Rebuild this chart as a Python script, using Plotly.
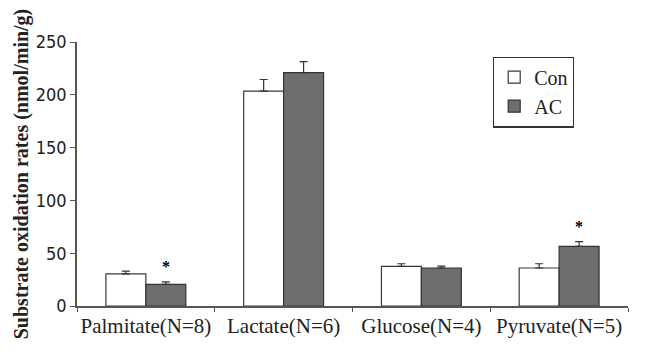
import plotly.graph_objects as go

categories = ["Palmitate(N=8)", "Lactate(N=6)", "Glucose(N=4)", "Pyruvate(N=5)"]
con_values = [30.5, 203.5, 37.5, 36]
con_errors = [2.5, 11, 2.5, 4]
ac_values = [20.5, 221, 36, 56.5]
ac_errors = [2.3, 10.5, 1.8, 4.5]
significant = [True, False, False, True]
y_ticks = [0, 50, 100, 150, 200, 250]

bargap = 0.42
serif = "Liberation Serif, Times New Roman, serif"
narrow = "Liberation Sans Narrow, DejaVu Sans Condensed, Arial Narrow, sans-serif"

fig = go.Figure()
fig.add_trace(go.Bar(
    name="Con", x=categories, y=con_values,
    marker=dict(color="white", line=dict(color="#3a3a3a", width=1.2)),
    error_y=dict(type="data", symmetric=False, array=con_errors,
                 arrayminus=[0] * len(con_errors), color="#333", thickness=1.2, width=4),
))
fig.add_trace(go.Bar(
    name="AC", x=categories, y=ac_values,
    marker=dict(color="#6e6e6e", line=dict(color="#333", width=1.2)),
    error_y=dict(type="data", symmetric=False, array=ac_errors,
                 arrayminus=[0] * len(ac_errors), color="#333", thickness=1.2, width=4),
))

offset = (1 - bargap) / 4
for i, sig in enumerate(significant):
    if sig:
        fig.add_annotation(x=i + offset, y=ac_values[i] + ac_errors[i], xref="x", yref="y",
                           text="<b>*</b>", showarrow=False, yanchor="bottom", yshift=5,
                           font=dict(family=serif, size=16, color="#000"))

fig.update_layout(
    width=646, height=353,
    margin=dict(l=69, r=26, t=34, b=55, autoexpand=False),
    paper_bgcolor="white", plot_bgcolor="white",
    barmode="group", bargap=bargap, bargroupgap=0,
    showlegend=True,
    legend=dict(x=0.755, y=0.945, xanchor="left", yanchor="top",
                bordercolor="#333", borderwidth=1.2, bgcolor="white",
                font=dict(family=serif, size=20, color="#222"),
                itemwidth=30, tracegroupgap=0),
    xaxis=dict(type="category", showline=True, linecolor="#555", linewidth=1.5,
               ticks="outside", tickson="boundaries", ticklen=4, tickcolor="#555",
               tickfont=dict(family=serif, size=21, color="#222"), tickangle=0,
               showgrid=False, range=[-0.5, 3.5], automargin=False),
    yaxis=dict(range=[0, 250], tickvals=y_ticks, showline=True, linecolor="#555",
               linewidth=1.5, ticks="outside", ticklen=5, tickcolor="#555",
               tickfont=dict(family=narrow, size=18, color="#222"),
               showgrid=False, zeroline=False, automargin=False,
               title=dict(text="<b>Substrate oxidation rates (nmol/min/g)</b>",
                          font=dict(family=serif, size=20, color="#222"), standoff=2)),
)

fig.write_html("out.html")
